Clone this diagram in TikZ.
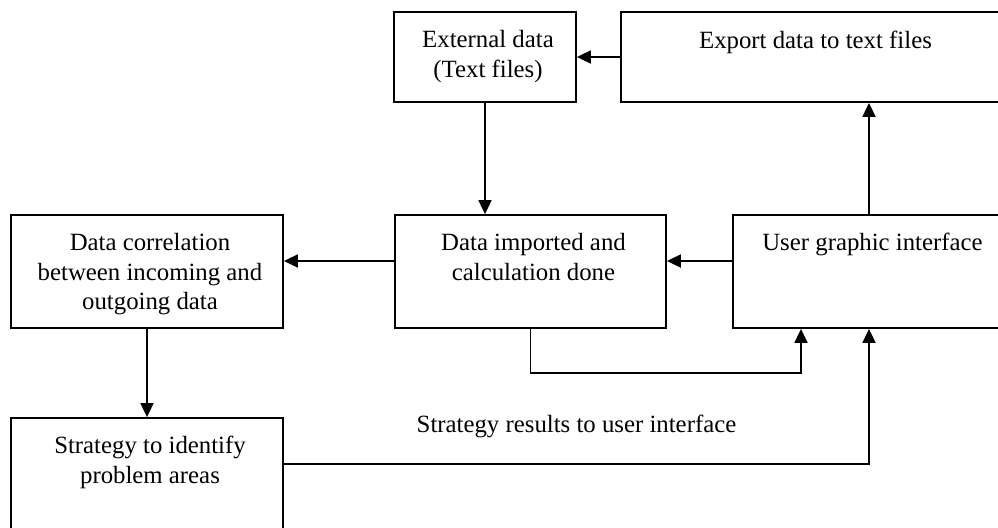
\documentclass[tikz,border=0pt]{standalone}
\usepackage{fontspec}
\setmainfont{Liberation Serif}
\usetikzlibrary{arrows.meta}
\tikzset{
  box/.style={draw, line width=0.9pt, rectangle, inner sep=0pt},
  txt/.style={font=\fontsize{12.4}{14.8}\selectfont, align=center, inner sep=0pt, anchor=north},
  arr/.style={line width=0.9pt, -{Triangle[length=7pt,width=6.5pt]}},
  wire/.style={line width=0.9pt}
}
\begin{document}
\begin{tikzpicture}[x=0.5pt, y=-0.5pt]
  \path[use as bounding box] (0,0) rectangle (998,527);
  \fill[white] (0,0) rectangle (998,527);
  \clip (0,0) rectangle (998,527);

  % boxes
  \node[box, minimum width=91pt,   minimum height=45pt]   (ext) at (485,57)     {};
  \node[box, minimum width=194.5pt,minimum height=45pt]   (exp) at (815.5,57)   {};
  \node[box, minimum width=135.5pt,minimum height=56.5pt] (imp) at (530.5,271.5){};
  \node[box, minimum width=139.5pt,minimum height=56.5pt] (ui)  at (872.5,271.5){};
  \node[box, minimum width=136pt,  minimum height=56.5pt] (cor) at (147,271.5)  {};
  \node[box, minimum width=136pt,  minimum height=71pt]   (str) at (147,489)    {};

  % box texts
  \node[txt] (extT) at ([yshift=-9.5pt,xshift=1.5pt]ext.north) {External data\\(Text files)};
  \node[txt] (expT) at ([yshift=-10pt]exp.north) {Export data to text files};
  \node[txt] (impT) at ([yshift=-9.5pt,xshift=1.5pt]imp.north) {Data imported and\\calculation done};
  \node[txt] (uiT)  at ([yshift=-9.5pt]ui.north) {User graphic interface};
  \node[txt] (corT) at ([yshift=-9.5pt,xshift=1.5pt]cor.north) {Data correlation\\between incoming and\\outgoing data};
  \node[txt] (strT) at ([yshift=-9.5pt,xshift=1.5pt]str.north) {Strategy to identify\\problem areas};

  % free label
  \node[font=\fontsize{12.4}{14.8}\selectfont, inner sep=0pt, anchor=base] (lbl) at (576.5,432) {Strategy results to user interface};

  % connector end points
  \coordinate (uiTop) at ([xshift=-1.75pt]ui.north);
  \coordinate (uiB1)  at ([xshift=-35.75pt]ui.south);
  \coordinate (uiB2)  at ([xshift=-1.75pt]ui.south);

  % connectors
  \draw[arr] (exp.west) -- (ext.east);
  \draw[arr] (ext.south) -- (ext.south |- imp.north);
  \draw[arr] ([yshift=5.25pt]ui.west) -- ([yshift=5.25pt]imp.east);
  \draw[arr] ([yshift=5.25pt]imp.west) -- ([yshift=5.25pt]cor.east);
  \draw[arr] (uiTop) -- (uiTop |- exp.south);
  \draw[arr] (cor.south) -- (str.north);
  \draw[arr] (imp.south) -- ++(0,44) -| (uiB1);
  \draw[arr] ([yshift=12.5pt]str.east) -| (uiB2);
\end{tikzpicture}
\end{document}
